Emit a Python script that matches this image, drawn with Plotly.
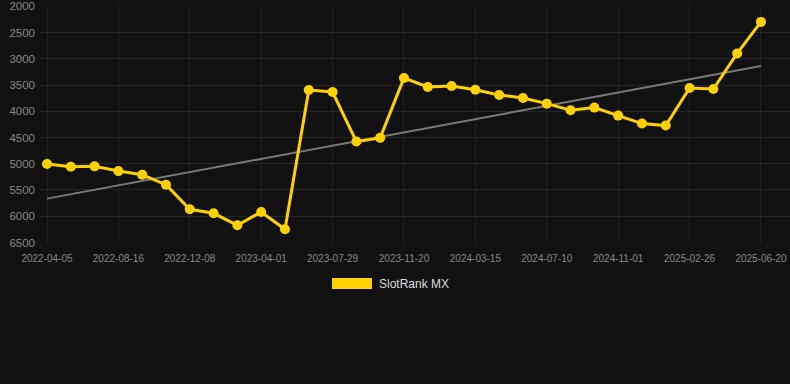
import plotly.graph_objects as go

dates = ["2022-04-05", "2022-05-19", "2022-07-02", "2022-08-16", "2022-09-23", "2022-10-31",
         "2022-12-08", "2023-01-15", "2023-02-22", "2023-04-01", "2023-05-10", "2023-06-19",
         "2023-07-29", "2023-09-06", "2023-10-14", "2023-11-20", "2023-12-28", "2024-02-06",
         "2024-03-15", "2024-04-22", "2024-06-01", "2024-07-10", "2024-08-17", "2024-09-24",
         "2024-11-01", "2024-12-10", "2025-01-18", "2025-02-26", "2025-04-05", "2025-05-13",
         "2025-06-20"]
rank = [5006, 5057, 5050, 5140, 5210, 5400, 5868, 5944, 6172, 5918, 6248,
        3595, 3633, 4577, 4507, 3367, 3538, 3519, 3589, 3690, 3747,
        3855, 3981, 3931, 4083, 4235, 4273, 3557, 3576, 2899, 2298]
tick_dates = dates[::3]
trend_x = [dates[0], dates[-1]]
trend_y = [5665, 3139]
y_ticks = [2000, 2500, 3000, 3500, 4000, 4500, 5000, 5500, 6000, 6500]
series_name = "SlotRank MX"

YELLOW = "#FFD100"
BG = "#111111"

fig = go.Figure()
fig.add_trace(go.Scatter(x=trend_x, y=trend_y, mode="lines",
                         line=dict(color="#7a7a7a", width=2), showlegend=False,
                         hoverinfo="skip"))
fig.add_trace(go.Scatter(x=dates, y=rank, mode="lines+markers", name=series_name,
                         line=dict(color=YELLOW, width=3), cliponaxis=False,
                         marker=dict(color=YELLOW, size=10), showlegend=False))

L, R, T, B = 40, 0, 6, 141
W, H = 790, 384
pw, ph = W - L - R, H - T - B

def px(x):
    return (x - L) / pw

def py(y):
    return (H - B - y) / ph

fig.add_shape(type="rect", xref="paper", yref="paper",
              x0=px(332), x1=px(372), y0=py(289), y1=py(278),
              fillcolor=YELLOW, line=dict(width=0))
fig.add_annotation(xref="paper", yref="paper", x=px(377), y=py(284),
                   text=series_name, showarrow=False, xanchor="left", yanchor="middle",
                   font=dict(color="#dddddd", size=12, family="Liberation Sans, Arial"))

fig.update_layout(
    width=W, height=H,
    margin=dict(l=L, r=R, t=T, b=B),
    paper_bgcolor=BG, plot_bgcolor=BG,
    font=dict(family="Liberation Sans, Arial", color="#888888"),
    showlegend=False,
    xaxis=dict(type="category", categoryorder="array", categoryarray=dates,
               range=[-0.294, 31.22], tickmode="array", tickvals=tick_dates,
               ticktext=tick_dates, tickfont=dict(size=10, color="#888888"),
               showgrid=True, gridcolor="#222222", gridwidth=1,
               zeroline=False, showline=False, ticks="", tickangle=0,
               ticklabelstandoff=8),
    yaxis=dict(range=[6510, 1995], tickmode="array", tickvals=y_ticks,
               tickfont=dict(size=11.5, color="#888888"),
               showgrid=True, gridcolor="#262626", gridwidth=1,
               zeroline=False, showline=False, ticks="", ticklen=0,
               ticklabelstandoff=4),
)

fig.write_html("out.html", config={"displayModeBar": False})

with open("out.html", "r", encoding="utf-8") as f:
    html = f.read()
html = html.replace("<head>", "<head><style>html,body{margin:0;padding:0;background:#111111;overflow:hidden;}</style>", 1)
with open("out.html", "w", encoding="utf-8") as f:
    f.write(html)
